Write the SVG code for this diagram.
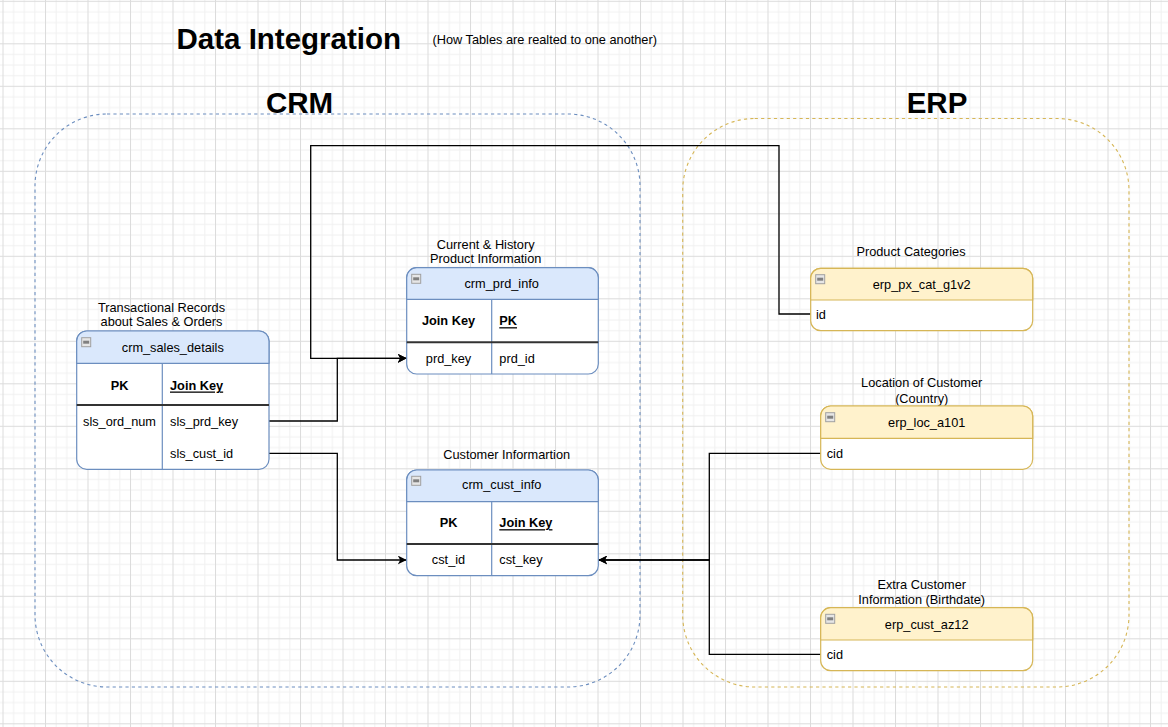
<svg xmlns="http://www.w3.org/2000/svg" width="1168" height="727" viewBox="0 0 1168 727">
<style>
text{font-family:"Liberation Sans",Arial,Helvetica,sans-serif;fill:#000;}
.t{font-size:12.75px;}
.c{text-anchor:middle;}
.b{font-weight:bold;}
.u{text-decoration:underline;}
.big{font-size:29.5px;font-weight:bold;}
.blue{fill:#fff;stroke:#6c8ebf;stroke-width:1.2;}
.bh{fill:#dae8fc;stroke:#6c8ebf;stroke-width:1.2;}
.yel{fill:#fff;stroke:#d6b656;stroke-width:1.2;}
.yh{fill:#fff2cc;stroke:#d6b656;stroke-width:1.2;}
.div{stroke:#6c8ebf;stroke-width:1.2;}
.sep{stroke:#333;stroke-width:2;}
.conn{fill:none;stroke:#000;stroke-width:1.3;}
.grp{fill:none;stroke-width:1.1;stroke-dasharray:3.2 3.2;}
</style>
<defs>
<pattern id="grid" x="2.5" y="0.8" width="42.5" height="42.5" patternUnits="userSpaceOnUse">
<rect x="0" y="0" width="42.5" height="42.5" fill="#fff"/>
<g fill="#f1f1f1">
<rect x="10.625" y="0" width="1" height="42.5"/>
<rect x="21.25" y="0" width="1" height="42.5"/>
<rect x="31.875" y="0" width="1" height="42.5"/>
<rect x="0" y="10.625" width="42.5" height="1"/>
<rect x="0" y="21.25" width="42.5" height="1"/>
<rect x="0" y="31.875" width="42.5" height="1"/>
</g>
<g fill="#dcdcdc">
<rect x="0" y="0" width="1" height="42.5"/>
<rect x="0" y="0" width="42.5" height="1"/>
</g>
</pattern>
<marker id="arr" markerWidth="10" markerHeight="9" refX="9" refY="4.5" orient="auto" markerUnits="userSpaceOnUse">
<path d="M0,0 L9,4.5 L0,9 L2.5,4.5 Z" fill="#000"/>
</marker>
<g id="minus">
<rect x="0" y="0" width="9" height="9" fill="#e6e6e6" stroke="#a0a0a0" stroke-width="1"/>
<rect x="1.5" y="3" width="6" height="3" fill="#808080"/>
</g>
</defs>
<rect width="1168" height="727" fill="url(#grid)"/>

<g id="titles">
<text x="176.5" y="48.5" class="big">Data Integration</text>
<text x="432.5" y="43.5" class="t">(How Tables are realted to one another)</text>
<text x="299.5" y="112.5" class="big c">CRM</text>
<text x="937" y="112.5" class="big c">ERP</text>
</g>

<g id="group-crm">
<rect x="35" y="114" width="605" height="573" rx="72" ry="72" class="grp" stroke="#6c8ebf"/>
</g>
<g id="group-erp">
<rect x="682.7" y="118.5" width="446.3" height="568.5" rx="72" ry="72" class="grp" stroke="#d6b656"/>
</g>

<g id="connectors">
<path class="conn" d="M269,421 H337.3 V358.3 H406.7" marker-end="url(#arr)"/>
<path class="conn" d="M810.7,314 H779 V145.7 H310.7 V358.3 H406.7" marker-end="url(#arr)"/>
<path class="conn" d="M269,453.3 H337.3 V560 H406.7" marker-end="url(#arr)"/>
<path class="conn" d="M820.7,453.3 H709.3 V560 H598.3" marker-end="url(#arr)"/>
<path class="conn" d="M820.7,654.3 H709.3 V560 H598.3" marker-end="url(#arr)"/>
</g>

<g id="crm_sales_details">
<text x="161.5" y="307.7" class="t c" dominant-baseline="central">Transactional Records</text>
<text x="161.5" y="321.7" class="t c" dominant-baseline="central">about Sales &amp; Orders</text>
<rect x="76.7" y="331" width="192.3" height="138.3" rx="10" class="blue"/>
<path d="M76.7,363.3 V341 A10,10 0 0 1 86.7,331 H259 A10,10 0 0 1 269,341 V363.3 Z" class="bh"/>
<use href="#minus" x="81.7" y="337.7"/>
<text x="172.8" y="347.7" class="t c" dominant-baseline="central">crm_sales_details</text>
<line x1="162.3" y1="363.3" x2="162.3" y2="469.3" class="div"/>
<line x1="76.7" y1="405" x2="269" y2="405" class="sep"/>
<text x="119.5" y="385" class="t c b" dominant-baseline="central">PK</text>
<text x="170" y="385" class="t b u" dominant-baseline="central">Join Key</text>
<text x="119.5" y="421.7" class="t c" dominant-baseline="central">sls_ord_num</text>
<text x="170" y="421.7" class="t" dominant-baseline="central">sls_prd_key</text>
<text x="170" y="453.3" class="t" dominant-baseline="central">sls_cust_id</text>
</g>

<g id="crm_prd_info">
<text x="485.7" y="244" class="t c" dominant-baseline="central">Current &amp; History</text>
<text x="485.7" y="258.3" class="t c" dominant-baseline="central">Product Information</text>
<rect x="406.7" y="267.7" width="191.6" height="106.3" rx="10" class="blue"/>
<path d="M406.7,299.3 V277.7 A10,10 0 0 1 416.7,267.7 H588.3 A10,10 0 0 1 598.3,277.7 V299.3 Z" class="bh"/>
<use href="#minus" x="411.7" y="274.3"/>
<text x="501.7" y="283.3" class="t c" dominant-baseline="central">crm_prd_info</text>
<line x1="491.7" y1="299.3" x2="491.7" y2="374" class="div"/>
<line x1="406.7" y1="342.3" x2="598.3" y2="342.3" class="sep"/>
<text x="448.5" y="320.7" class="t c b" dominant-baseline="central">Join Key</text>
<text x="499.3" y="320.7" class="t b u" dominant-baseline="central">PK</text>
<text x="448.5" y="358.3" class="t c" dominant-baseline="central">prd_key</text>
<text x="499.3" y="358.3" class="t" dominant-baseline="central">prd_id</text>
</g>

<g id="crm_cust_info">
<text x="506.7" y="454" class="t c" dominant-baseline="central">Customer Informartion</text>
<rect x="406.7" y="470" width="191.6" height="105.7" rx="10" class="blue"/>
<path d="M406.7,501.7 V480 A10,10 0 0 1 416.7,470 H588.3 A10,10 0 0 1 598.3,480 V501.7 Z" class="bh"/>
<use href="#minus" x="411.7" y="476.3"/>
<text x="501.7" y="484.3" class="t c" dominant-baseline="central">crm_cust_info</text>
<line x1="491.7" y1="501.7" x2="491.7" y2="575.7" class="div"/>
<line x1="406.7" y1="544" x2="598.3" y2="544" class="sep"/>
<text x="448.5" y="522.7" class="t c b" dominant-baseline="central">PK</text>
<text x="499.3" y="522.7" class="t b u" dominant-baseline="central">Join Key</text>
<text x="448.5" y="559.3" class="t c" dominant-baseline="central">cst_id</text>
<text x="499.3" y="559.3" class="t" dominant-baseline="central">cst_key</text>
</g>

<g id="erp_px_cat_g1v2">
<text x="911" y="251.7" class="t c" dominant-baseline="central">Product Categories</text>
<rect x="810.7" y="268.3" width="222" height="62.4" rx="10" class="yel"/>
<path d="M810.7,300 V278.3 A10,10 0 0 1 820.7,268.3 H1022.7 A10,10 0 0 1 1032.7,278.3 V300 Z" class="yh"/>
<use href="#minus" x="815.7" y="274.7"/>
<text x="921.7" y="284.3" class="t c" dominant-baseline="central">erp_px_cat_g1v2</text>
<text x="816" y="314" class="t" dominant-baseline="central">id</text>
</g>

<g id="erp_loc_a101">
<text x="921.7" y="382.7" class="t c" dominant-baseline="central">Location of Customer</text>
<text x="921.7" y="398.3" class="t c" dominant-baseline="central">(Country)</text>
<rect x="820.7" y="406" width="212" height="63.3" rx="10" class="yel"/>
<path d="M820.7,438.3 V416 A10,10 0 0 1 830.7,406 H1022.7 A10,10 0 0 1 1032.7,416 V438.3 Z" class="yh"/>
<use href="#minus" x="825.7" y="412.7"/>
<text x="926.7" y="422.3" class="t c" dominant-baseline="central">erp_loc_a101</text>
<text x="826.7" y="453.3" class="t" dominant-baseline="central">cid</text>
</g>

<g id="erp_cust_az12">
<text x="921.7" y="584" class="t c" dominant-baseline="central">Extra Customer</text>
<text x="921.7" y="599.3" class="t c" dominant-baseline="central">Information (Birthdate)</text>
<rect x="820.7" y="607.7" width="212" height="63" rx="10" class="yel"/>
<path d="M820.7,640 V617.7 A10,10 0 0 1 830.7,607.7 H1022.7 A10,10 0 0 1 1032.7,617.7 V640 Z" class="yh"/>
<use href="#minus" x="825.7" y="614.3"/>
<text x="926.7" y="624" class="t c" dominant-baseline="central">erp_cust_az12</text>
<text x="826.7" y="654.3" class="t" dominant-baseline="central">cid</text>
</g>
</svg>
